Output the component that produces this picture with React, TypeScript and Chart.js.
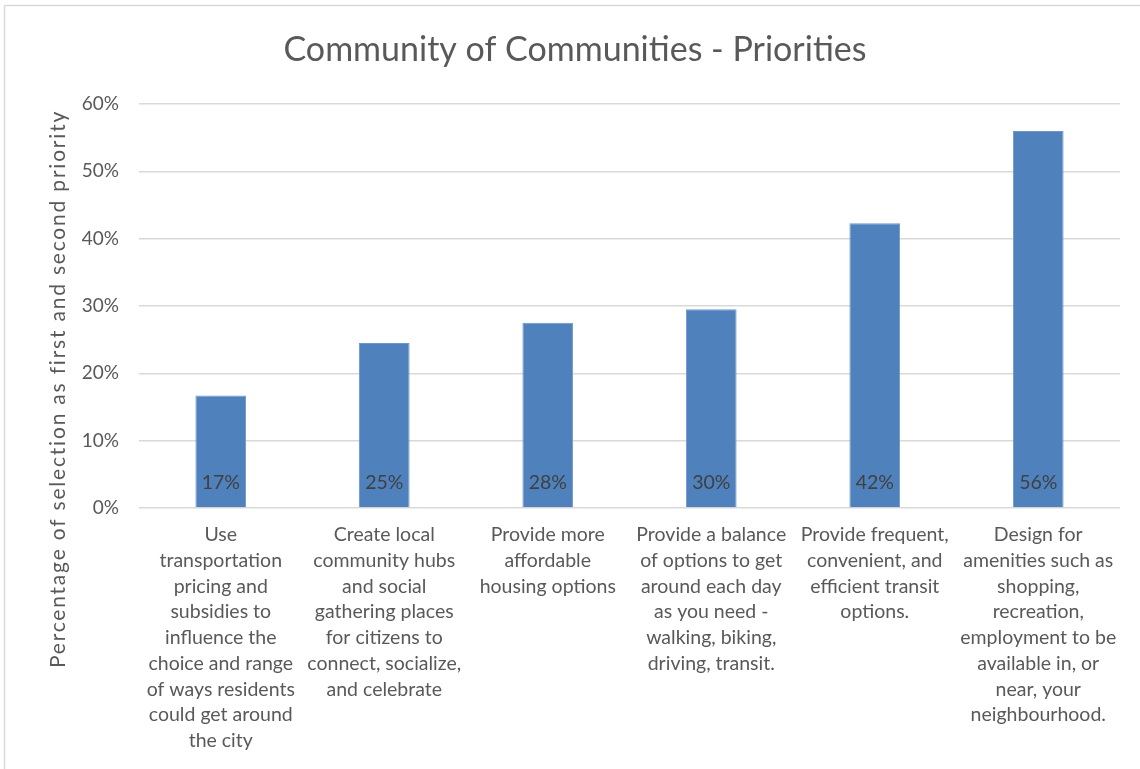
import React, { useEffect, useRef } from "react";
import { Chart, registerables } from "chart.js";

Chart.register(...registerables);

const TITLE = "Community of Communities - Priorities";
const Y_TITLE = "Percentage of selection as first and second priority";

const categories: string[][] = [
  ["Use", "transportation", "pricing and", "subsidies to", "influence the", "choice and range", "of ways residents", "could get around", "the city"],
  ["Create local", "community hubs", "and social", "gathering places", "for citizens to", "connect, socialize,", "and celebrate"],
  ["Provide more", "affordable", "housing options"],
  ["Provide a balance", "of options to get", "around each day", "as you need -", "walking, biking,", "driving, transit."],
  ["Provide frequent,", "convenient, and", "efficient transit", "options."],
  ["Design for", "amenities such as", "shopping,", "recreation,", "employment to be", "available in, or", "near, your", "neighbourhood."],
];

const values: number[] = [16.7, 24.5, 27.5, 29.5, 42.3, 56.0];

const yTicks: number[] = [0, 10, 20, 30, 40, 50, 60];

const FONT = "Lato, 'Open Sans', sans-serif";
const TEXT = "#595959";
const GRID = "#D9D9D9";
const BAR = "#4F81BD";

const decorPlugin = {
  id: "decor",
  beforeDraw(chart: any) {
    const { ctx, width, height } = chart;
    ctx.save();
    ctx.fillStyle = "#ffffff";
    ctx.fillRect(0, 0, width, height);
    ctx.strokeStyle = GRID;
    ctx.lineWidth = 1.5;
    ctx.strokeRect(4.5, 5.5, width + 20, height + 20);
    ctx.restore();
  },
  afterDraw(chart: any) {
    const { ctx, width } = chart;
    ctx.save();
    ctx.fillStyle = TEXT;
    ctx.textAlign = "center";
    ctx.textBaseline = "middle";
    ctx.font = `34px ${FONT}`;
    ctx.fillText(TITLE, width / 2 + 5, 50);
    ctx.translate(58, 389);
    ctx.rotate(-Math.PI / 2);
    ctx.font = `21px ${FONT}`;
    (ctx as any).letterSpacing = "1.8px";
    ctx.fillText(Y_TITLE, 0, 0);
    ctx.restore();
  },
  afterDatasetsDraw(chart: any) {
    const { ctx } = chart;
    const meta = chart.getDatasetMeta(0);
    const yScale = chart.scales.y;
    ctx.save();
    ctx.fillStyle = "#404040";
    ctx.textAlign = "center";
    ctx.textBaseline = "middle";
    ctx.font = `19.5px ${FONT}`;
    meta.data.forEach((bar: any, i: number) => {
      const base = yScale.getPixelForValue(0);
      ctx.fillText(Math.round(values[i]) + "%", bar.x, base - 25);
    });
    ctx.restore();
  },
};

export default function App() {
  const ref = useRef<HTMLCanvasElement | null>(null);

  useEffect(() => {
    document.body.style.margin = "0";
    const canvas = ref.current;
    if (!canvas) return;
    const chart = new Chart(canvas, {
      type: "bar",
      data: {
        labels: categories,
        datasets: [
          {
            data: values,
            backgroundColor: BAR,
            borderColor: "#6f97c9",
            borderWidth: 1,
            barPercentage: 0.31,
            categoryPercentage: 1,
          },
        ],
      },
      options: {
        animation: false,
        responsive: false,
        devicePixelRatio: 1,
        layout: { padding: { top: 104, right: 20, left: 0, bottom: 0 } },
        plugins: {
          legend: { display: false },
          title: { display: false },
          tooltip: { enabled: false },
        },
        scales: {
          x: {
            grid: { display: false, drawTicks: false },
            border: { display: false },
            ticks: {
              color: TEXT,
              font: { family: FONT, size: 19.5, lineHeight: 1.32 },
              maxRotation: 0,
              minRotation: 0,
              autoSkip: false,
              padding: 14,
            },
            afterFit(scale: any) {
              scale.height = 261;
            },
          },
          y: {
            min: 0,
            max: 60,
            afterBuildTicks(scale: any) {
              scale.ticks = yTicks.map((v) => ({ value: v }));
            },
            grid: { color: GRID, lineWidth: 1.5, drawTicks: false },
            border: { display: false },
            ticks: {
              color: TEXT,
              font: { family: FONT, size: 19 },
              padding: 20,
              callback: (v: any) => v + "%",
            },
            afterFit(scale: any) {
              scale.width = 139;
            },
          },
        },
      },
      plugins: [decorPlugin],
    });
    return () => chart.destroy();
  }, []);

  return (
    <div style={{ position: "absolute", left: 0, top: 0, width: 1140, height: 769 }}>
      <canvas ref={ref} width={1140} height={769} />
    </div>
  );
}
